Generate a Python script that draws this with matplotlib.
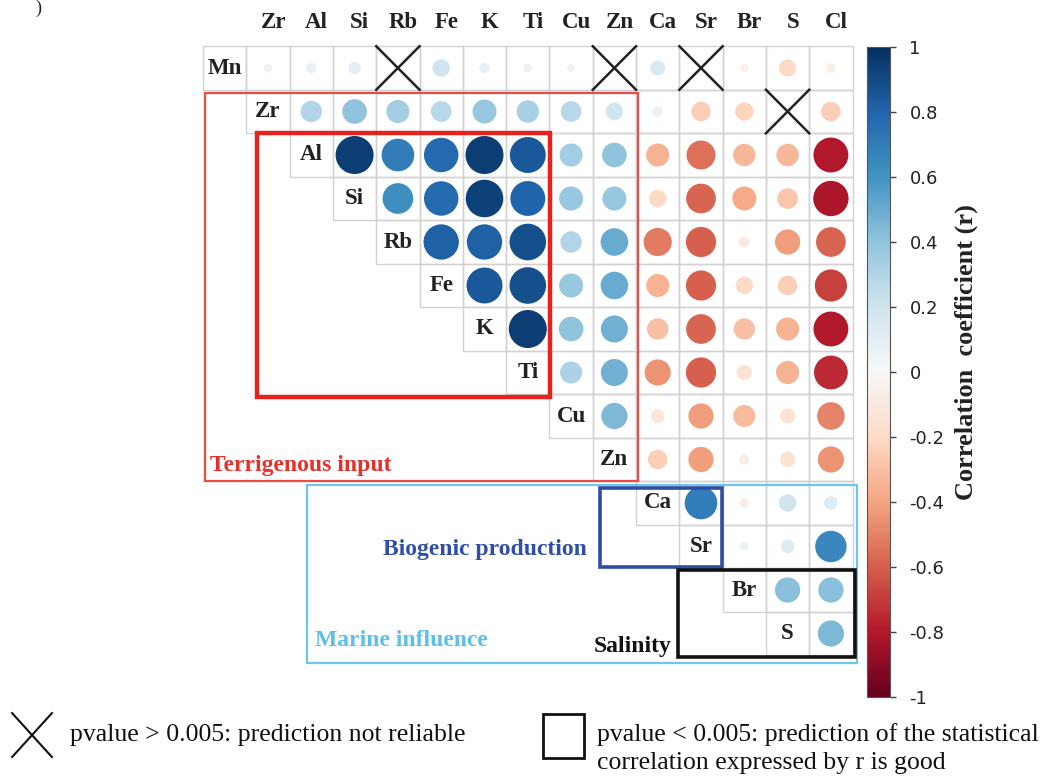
import numpy as np
import matplotlib
matplotlib.use("Agg")
import matplotlib.pyplot as plt
from matplotlib.patches import Rectangle
from matplotlib.colors import Normalize

# ---------------- data ----------------
names = ["Mn", "Zr", "Al", "Si", "Rb", "Fe", "K", "Ti", "Cu", "Zn", "Ca", "Sr", "Br", "S", "Cl"]

# upper-triangle correlation rows (each row lists r with the following variables)
r_Mn = [0.05, 0.07, 0.10, 0.05, 0.20, 0.07, 0.05, 0.04, 0.05, 0.15, 0.05, -0.05, -0.20, -0.06]
r_Zr = [0.30, 0.40, 0.35, 0.28, 0.38, 0.33, 0.28, 0.20, 0.07, -0.25, -0.22, -0.05, -0.25]
r_Al = [0.95, 0.70, 0.78, 0.95, 0.85, 0.35, 0.40, -0.35, -0.55, -0.33, -0.33, -0.80]
r_Si = [0.62, 0.78, 0.93, 0.80, 0.38, 0.38, -0.20, -0.58, -0.38, -0.28, -0.82]
r_Rb = [0.82, 0.82, 0.88, 0.30, 0.50, -0.52, -0.60, -0.08, -0.42, -0.58]
r_Fe = [0.85, 0.88, 0.38, 0.50, -0.35, -0.60, -0.20, -0.25, -0.68]
r_K = [0.95, 0.40, 0.48, -0.30, -0.58, -0.30, -0.35, -0.80]
r_Ti = [0.32, 0.48, -0.45, -0.60, -0.15, -0.35, -0.75]
r_Cu = [0.45, -0.12, -0.42, -0.32, -0.15, -0.50]
r_Zn = [-0.25, -0.42, -0.07, -0.15, -0.45]
r_Ca = [0.70, -0.06, 0.20, 0.12]
r_Sr = [0.05, 0.12, 0.65]
r_Br = [0.42, 0.42]
r_S = [0.45]
r_rows = [r_Mn, r_Zr, r_Al, r_Si, r_Rb, r_Fe, r_K, r_Ti, r_Cu, r_Zn, r_Ca, r_Sr, r_Br, r_S]

# pairs with pvalue > 0.005 (crossed out)
not_reliable = [("Mn", "Rb"), ("Mn", "Zn"), ("Mn", "Sr"), ("Zr", "S")]

cbar_ticks = [-1, -0.8, -0.6, -0.4, -0.2, 0, 0.2, 0.4, 0.6, 0.8, 1]

# ---------------- figure ----------------
W, H = 1050, 778
fig = plt.figure(figsize=(W / 100, H / 100), dpi=100)
SERIF = ["Liberation Serif", "DejaVu Serif"]
plt.rcParams["font.family"] = SERIF

# pixel geometry -> data units (columns = variables Zr..Cl at 0..13, rows = Mn..S at 0..13)
X0, DX, Y0, DY = 268.0, 43.3, 68.0, 43.5
ax = fig.add_axes([0, 0, 1, 1])
ax.set_xlim((0 - X0) / DX, (W - X0) / DX)
ax.set_ylim((H - Y0) / DY, (0 - Y0) / DY)
ax.axis("off")

cmap = plt.get_cmap("RdBu")
norm = Normalize(-1, 1)
grid_col = "#d2d2d2"
LBL = 16.5

xs, ys, cs, ss = [], [], [], []
for i, row in enumerate(r_rows):
    # diagonal label cell
    ax.add_patch(Rectangle((i - 1 - 0.5, i - 0.5), 1, 1, fill=False, ec=grid_col, lw=1, zorder=1))
    ax.text(i - 1, i, names[i], ha="center", va="center", fontsize=LBL, fontweight="bold",
            color="#222222", zorder=5)
    for k, r in enumerate(row):
        j = i + k  # column index (variable index j+1)
        ax.add_patch(Rectangle((j - 0.5, i - 0.5), 1, 1, fill=False, ec=grid_col, lw=1, zorder=1))
        if (names[i], names[j + 1]) in not_reliable:
            ax.plot([j - 0.5, j + 0.5], [i - 0.5, i + 0.5], color="#222222", lw=1.8, zorder=4)
            ax.plot([j - 0.5, j + 0.5], [i + 0.5, i - 0.5], color="#222222", lw=1.8, zorder=4)
            continue
        xs.append(j)
        ys.append(i)
        cs.append(r)
        d_px = 39 * np.sqrt(abs(r))
        ss.append((d_px * 0.72) ** 2)

ax.scatter(xs, ys, s=ss, c=cs, cmap=cmap, norm=norm, linewidths=0, zorder=3)

# column labels
for j, nm in enumerate(names[1:]):
    ax.text(j + 0.12, (22 - Y0) / DY, nm, ha="center", va="center", fontsize=LBL,
            fontweight="bold", color="#222222")

# group boxes
def box(x0, x1, y0, y1, color, lw):
    ax.add_patch(Rectangle((x0, y0), x1 - x0, y1 - y0, fill=False, ec=color, lw=lw, zorder=6))

box(-1.455, 8.545, 0.575, 9.494, "#ee4a44", 1.6)
box(-0.254, 6.513, 1.494, 7.563, "#e5231c", 3.2)
box(0.90, 13.60, 9.586, 13.68, "#6cc6ee", 1.6)
box(7.667, 10.485, 9.655, 11.47, "#2d4ea3", 2.6)
box(9.469, 13.557, 11.54, 13.54, "#111111", 2.6)

GF = 17
ax.text(-1.34, 9.13, "Terrigenous input", ha="left", va="center", fontsize=GF,
        fontweight="bold", color="#e8302a", zorder=7)
ax.text(5.01, 11.06, "Biogenic production", ha="center", va="center", fontsize=GF,
        fontweight="bold", color="#2f4fa6", zorder=7)
ax.text(1.085, 13.15, "Marine influence", ha="left", va="center", fontsize=GF,
        fontweight="bold", color="#5bc0eb", zorder=7)
ax.text(7.53, 13.29, "Salinity", ha="left", va="center", fontsize=GF,
        fontweight="bold", color="#111111", zorder=7)

# legend at bottom
LF = 18.5
ax.plot([-5.91, -4.99], [14.83, 15.84], color="#111111", lw=1.5)
ax.plot([-5.91, -4.99], [15.84, 14.83], color="#111111", lw=1.5)
ax.text(-4.57, 15.33, "pvalue > 0.005: prediction not reliable", ha="left", va="center",
        fontsize=LF, color="#111111")
ax.add_patch(Rectangle((6.35, 14.85), 0.95, 1.01, fill=False, ec="#111111", lw=2))
ax.text(7.60, 15.33, "pvalue < 0.005: prediction of the statistical", ha="left",
        va="center", fontsize=LF, color="#111111")
ax.text(7.60, 15.98, "correlation expressed by r is good", ha="left", va="center",
        fontsize=LF, color="#111111")

# cropped panel label
fig.text(35 / W, 1.0, ")", ha="left", va="top", fontsize=13, color="#222222")

# colorbar
cax = fig.add_axes([867 / W, 1 - 697 / H, 23 / W, 650 / H])
sm = matplotlib.cm.ScalarMappable(norm=norm, cmap=cmap)
cb = fig.colorbar(sm, cax=cax, ticks=cbar_ticks)
cb.ax.set_yticklabels([("%g" % t) for t in cbar_ticks], fontsize=13, family="DejaVu Sans",
                      color="#222222")
cb.ax.tick_params(length=4, width=1, color="#444444", pad=10)
cb.outline.set_edgecolor("#555555")
fig.text(966 / W, 1 - 352 / H, "Correlation  coefficient (r)", rotation=90, ha="center",
         va="center", fontsize=19, fontweight="bold", color="#222222")

fig.savefig("out.png", dpi=100)
